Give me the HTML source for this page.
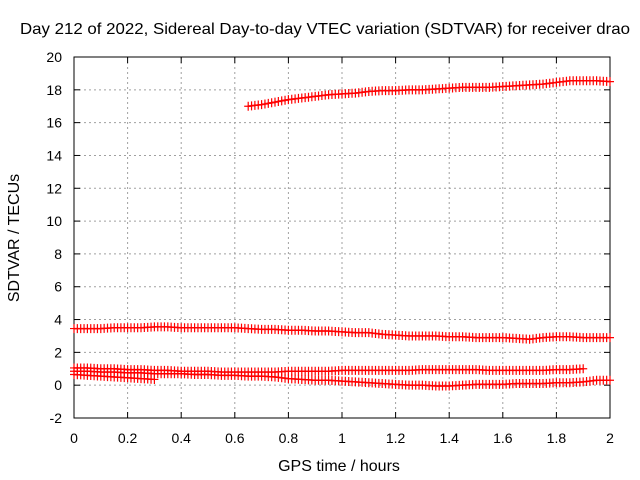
<!DOCTYPE html>
<html><head><meta charset="utf-8"><style>
body{margin:0;background:#fff;}
svg{display:block;font-family:"Liberation Sans",sans-serif;}
</style></head><body>
<svg id="chart" width="640" height="480" viewBox="0 0 640 480">
<text x="325" y="34" font-size="16" text-anchor="middle" textLength="610" lengthAdjust="spacingAndGlyphs">Day 212 of 2022, Sidereal Day-to-day VTEC variation (SDTVAR) for receiver drao</text>
<text x="339" y="471" font-size="16" text-anchor="middle">GPS time / hours</text>
<text transform="translate(19,238) rotate(-90)" font-size="16" text-anchor="middle">SDTVAR / TECUs</text>
<g id="grid"></g><g id="axes"></g><g id="series"></g>
</svg>
<script>
const xTicks=[0,0.2,0.4,0.6,0.8,1,1.2,1.4,1.6,1.8,2];
const xTickLabels=["0","0.2","0.4","0.6","0.8","1","1.2","1.4","1.6","1.8","2"];
const yTicks=[-2,0,2,4,6,8,10,12,14,16,18,20];
const yTickLabels=["-2","0","2","4","6","8","10","12","14","16","18","20"];
const step=0.05;
const sA_start=0.65;
const sA=[17.0,17.1,17.25,17.4,17.5,17.6,17.7,17.75,17.8,17.9,17.95,17.95,18.0,18.0,18.05,18.1,18.15,18.15,18.15,18.2,18.25,18.3,18.35,18.45,18.55,18.55,18.55,18.5];
const sB=[3.45,3.45,3.45,3.5,3.5,3.5,3.55,3.55,3.5,3.5,3.5,3.5,3.5,3.45,3.4,3.4,3.35,3.35,3.3,3.3,3.25,3.2,3.2,3.1,3.05,3.0,3.0,3.0,2.95,2.95,2.9,2.9,2.9,2.85,2.8,2.9,2.95,2.95,2.9,2.9,2.9];
const sC=[1.05,1.05,1.0,1.0,0.95,0.95,0.9,0.9,0.85,0.85,0.85,0.8,0.8,0.8,0.8,0.8,0.85,0.85,0.85,0.85,0.9,0.9,0.9,0.9,0.9,0.9,0.95,0.95,0.95,0.95,0.95,0.9,0.9,0.9,0.9,0.9,0.95,0.95,1.0];
const sD=[0.65,0.6,0.55,0.5,0.45,0.4,0.35];
const sE=[0.85,0.85,0.8,0.8,0.75,0.75,0.7,0.7,0.7,0.65,0.65,0.6,0.6,0.55,0.55,0.5,0.4,0.35,0.3,0.3,0.25,0.2,0.15,0.1,0.05,0.0,0.0,-0.05,-0.05,0.0,0.05,0.05,0.05,0.1,0.1,0.1,0.15,0.15,0.2,0.3,0.3];
const X0=74,X1=610,Y0=418,Y1=57;
const xs=v=>X0+(v-0)/(2-0)*(X1-X0);
const ys=v=>Y0-(v+2)/22*(Y0-Y1);
const NS="http://www.w3.org/2000/svg";
function mk(tag,attrs,parent){const e=document.createElementNS(NS,tag);for(const k in attrs)e.setAttribute(k,attrs[k]);parent.appendChild(e);return e;}
const grid=document.getElementById('grid'),axes=document.getElementById('axes'),ser=document.getElementById('series');
xTicks.forEach((t,i)=>{const x=xs(t);
 if(i>0&&i<xTicks.length-1){const g=mk('line',{x1:x,x2:x,y1:Y1,y2:Y0,stroke:'#a0a0a0','stroke-dasharray':'2,3'},grid);
 }
 const tk=mk('line',{x1:x,x2:x,y1:Y0,y2:Y0-6,stroke:'#000'},axes);
 const tk2=mk('line',{x1:x,x2:x,y1:Y1,y2:Y1+6,stroke:'#000'},axes);
 const l=mk('text',{x:x,y:443,'font-size':14,'text-anchor':'middle'},axes);l.textContent=xTickLabels[i];
 });
yTicks.forEach((t,i)=>{const y=ys(t);
 if(i>0&&i<yTicks.length-1){const g=mk('line',{x1:X0,x2:X1,y1:y,y2:y,stroke:'#a0a0a0','stroke-dasharray':'2,3'},grid);
 }
 const tk=mk('line',{x1:X0,x2:X0+6,y1:y,y2:y,stroke:'#000'},axes);
 const tk2=mk('line',{x1:X1,x2:X1-6,y1:y,y2:y,stroke:'#000'},axes);
 const l=mk('text',{x:62,y:y+5,'font-size':14,'text-anchor':'end'},axes);l.textContent=yTickLabels[i];
 });
const fr=mk('rect',{x:X0,y:Y1,width:X1-X0,height:Y0-Y1,fill:'none',stroke:'#000'},axes);

function drawSeries(vals,start,name){
 const g=mk('g',{},ser);
 const pts=vals.map((v,i)=>[xs(start+i*step),ys(v)]);
 const pl=mk('polyline',{points:pts.map(p=>p.join(',')).join(' '),fill:'none',stroke:'#ff0000','stroke-width':1.5},g);
 
 for(let i=0;i<pts.length;i++){
  const [x,y]=pts[i];
  for(let k=0;k<4;k++){
   const nx=i<pts.length-1?x+(pts[i+1][0]-x)*k/4:x; const ny=i<pts.length-1?y+(pts[i+1][1]-y)*k/4:y;
   if(i==pts.length-1&&k>0)break;
   const p=mk('path',{d:`M${nx-4},${ny}h8M${nx},${ny-4.5}v9`,stroke:'#ff0000','stroke-width':1.2},g);
   
  }
 }
}
drawSeries(sA,sA_start,'series-a');
drawSeries(sB,0,'series-b');
drawSeries(sC,0,'series-c');
drawSeries(sD,0,'series-d');
drawSeries(sE,0,'series-e');
</script>
</body></html>
